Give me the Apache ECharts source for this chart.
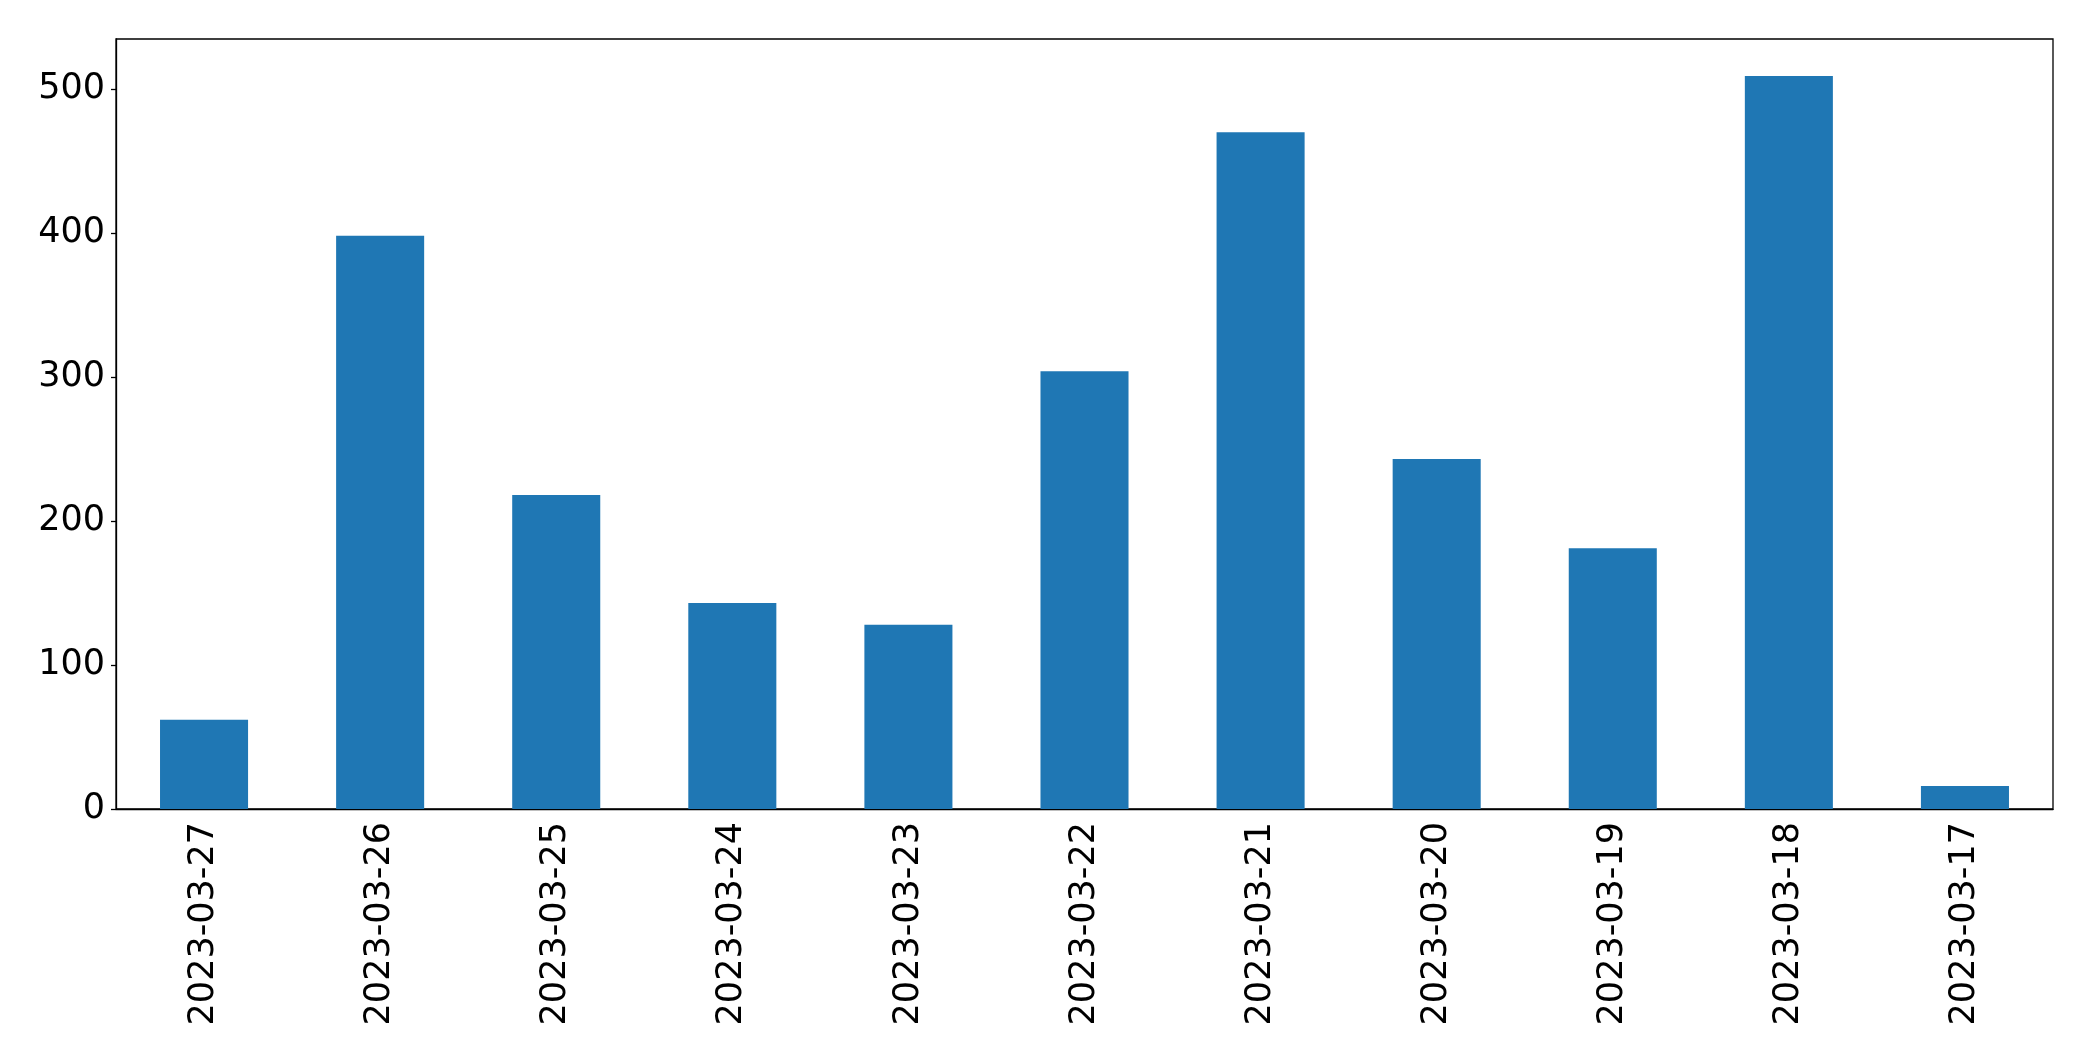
<!DOCTYPE html>
<html>
<head>
<meta charset="utf-8">
<script src="https://cdn.jsdelivr.net/npm/echarts@6/dist/echarts.min.js"></script>
<style>
  html, body { margin: 0; padding: 0; background: #fff; }
  #main { width: 2093px; height: 1061px; }
</style>
</head>
<body>
<div id="main"></div>
<script>
const dates = ["2023-03-27", "2023-03-26", "2023-03-25", "2023-03-24", "2023-03-23",
    "2023-03-22", "2023-03-21", "2023-03-20", "2023-03-19", "2023-03-18", "2023-03-17"];
const counts = [62, 398, 218, 143, 128, 304, 470, 243, 181, 509, 16];
const yTicks = [0, 100, 200, 300, 400, 500];

const chart = echarts.init(document.querySelector("#main"));

const font = "DejaVu Sans";

let option = {
    animation: false,
    grid: {
        left: 116,
        top: 39,
        right: 40,
        bottom: 252,
        show: true,
        borderColor: "#000",
        borderWidth: 1.3,
    },
    xAxis: {
        type: "category",
        data: dates,
        axisLine: { lineStyle: { color: "#000", width: 1.3 } },
        axisTick: { alignWithLabel: true, length: 5, lineStyle: { color: "#000", width: 1.3 } },
        axisLabel: {
            rotate: 90,
            margin: 13,
            color: "#000",
            fontFamily: font,
            fontSize: 35,
        },
    },
    yAxis: {
        type: "value",
        min: 0,
        max: 534.7,
        interval: 100,
        splitLine: { show: false },
        axisLine: { show: true, lineStyle: { color: "#000", width: 1.3 } },
        axisTick: { show: true, length: 5, customValues: yTicks, lineStyle: { color: "#000", width: 1.3 } },
        axisLabel: {
            customValues: yTicks,
            margin: 11,
            color: "#000",
            fontFamily: font,
            fontSize: 35,
        },
    },
    series: [
        {
            type: "bar",
            data: counts,
            barWidth: "50%",
            itemStyle: { color: "#1f77b4" },
        },
    ],
};
chart.setOption(option);
</script>
</body>
</html>
